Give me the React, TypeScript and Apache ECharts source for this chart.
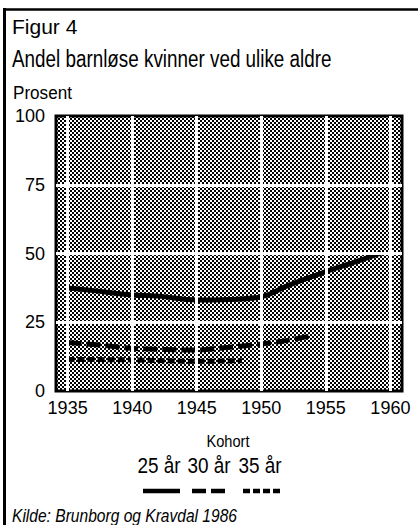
import { useEffect, useRef } from "react";
import * as echarts from "echarts";

const seriesNames = ["25 år", "30 år", "35 år"];
const years25 = [1935, 1937, 1940, 1942, 1945, 1947.5, 1950, 1952, 1955, 1957, 1959.3];
const values25 = [37.5, 36.5, 34.9, 34.5, 33.1, 33.3, 34.3, 38.2, 43.4, 46.5, 50.2];
const years30 = [1935, 1937.5, 1940, 1945, 1947.5, 1950, 1951.5, 1953.8];
const values30 = [17.6, 16.7, 15.5, 14.9, 15.9, 17.1, 18.0, 20.0];
const years35 = [1935, 1940, 1945, 1948.5];
const values35 = [11.5, 11.3, 10.8, 11.0];
const xTicks = [1935, 1940, 1945, 1950, 1955, 1960];
const yGridValues = [25, 50, 75];

const FONT = "'Liberation Sans', Arial, Helvetica, sans-serif";

function makePattern() {
  const c = document.createElement("canvas");
  c.width = 4;
  c.height = 4;
  const ctx = c.getContext("2d")!;
  ctx.fillStyle = "#fff";
  ctx.fillRect(0, 0, 4, 4);
  ctx.fillStyle = "#000";
  ctx.fillRect(0, 0, 2, 2);
  ctx.fillRect(2, 2, 2, 2);
  return c;
}

export default function App() {
  const ref = useRef<HTMLDivElement>(null);
  useEffect(() => {
    document.body.style.margin = "0";
    const chart = echarts.init(ref.current!, undefined, { renderer: "svg" });
    const pair = (xs: number[], ys: number[]) => xs.map((x, i) => [x, ys[i]]);
    const lineDashes: any[] = ["solid", [14, 5], [7, 3]];
    const legendCenters = [159, 209, 260];
    const legendLines = [
      [143, 180],
      [192, 226],
      [243, 282],
    ];
    const graphic: any[] = [
      { type: "line", shape: { x1: 4.5, y1: 8, x2: 4.5, y2: 525 }, style: { stroke: "#000", lineWidth: 3 } },
      { type: "line", shape: { x1: 3, y1: 9.5, x2: 418, y2: 9.5 }, style: { stroke: "#000", lineWidth: 2.5 } },
      { type: "text", x: 12, y: 26, style: { text: "Figur 4", font: `21px ${FONT}`, fill: "#000", verticalAlign: "middle" } },
      {
        type: "text",
        x: 12,
        y: 58.5,
        scaleX: 0.82,
        style: { text: "Andel barnløse kvinner ved ulike aldre", font: `23px ${FONT}`, fill: "#000", verticalAlign: "middle" },
      },
      {
        type: "text",
        x: 13,
        y: 92.5,
        scaleX: 0.9,
        style: { text: "Prosent", font: `19px ${FONT}`, fill: "#000", verticalAlign: "middle" },
      },
      {
        type: "text",
        x: 228,
        y: 441,
        scaleX: 0.86,
        style: { text: "Kohort", font: `17px ${FONT}`, fill: "#000", align: "center", verticalAlign: "middle" },
      },
      {
        type: "text",
        x: 12,
        y: 515,
        scaleX: 0.82,
        style: { text: "Kilde: Brunborg og Kravdal 1986", font: `italic 19px ${FONT}`, fill: "#000", verticalAlign: "middle" },
      },
    ];
    seriesNames.forEach((name, i) => {
      graphic.push({
        type: "text",
        x: legendCenters[i],
        y: 465,
        scaleX: 0.86,
        style: { text: name, font: `22px ${FONT}`, fill: "#000", align: "center", verticalAlign: "middle" },
      });
      graphic.push({
        type: "line",
        shape: { x1: legendLines[i][0], y1: 491, x2: legendLines[i][1], y2: 491 },
        style: { stroke: "#000", lineWidth: 4.5, lineDash: lineDashes[i] === "solid" ? null : lineDashes[i] },
      });
    });

    const mk = (name: string, data: number[][], dash: any, smooth: number) => ({
      name,
      type: "line",
      data,
      symbol: "none",
      showSymbol: false,
      smooth,
      z: 3,
      lineStyle: { color: "#000", width: 5, type: dash, cap: "butt" },
    });

    chart.setOption({
      animation: false,
      grid: {
        left: 56,
        right: 16,
        top: 116,
        bottom: 134,
        show: true,
        borderColor: "#000",
        borderWidth: 3,
        backgroundColor: { image: makePattern(), repeat: "repeat" },
      },
      xAxis: {
        type: "value",
        min: 1934.1,
        max: 1960.9,
        axisLine: { show: false },
        axisTick: { show: false },
        splitLine: { show: false },
        axisLabel: {
          customValues: xTicks,
          formatter: (v: number) => String(v),
          color: "#000",
          fontSize: 18,
          fontFamily: FONT,
          margin: 8,
        },
      },
      yAxis: {
        type: "value",
        min: 0,
        max: 100,
        interval: 25,
        axisLine: { show: false },
        axisTick: { show: false },
        splitLine: { show: false },
        axisLabel: { color: "#000", fontSize: 18, fontFamily: FONT, margin: 11 },
      },
      graphic,
      series: [
        {
          type: "line",
          data: [],
          silent: true,
          z: 1,
          markLine: {
            silent: true,
            symbol: "none",
            label: { show: false },
            lineStyle: { color: "#fff", width: 3, type: "solid" },
            data: [...xTicks.map((v) => ({ xAxis: v })), ...yGridValues.map((v) => ({ yAxis: v }))],
          },
        },
        mk(seriesNames[0], pair(years25, values25), "solid", 0.4),
        mk(seriesNames[1], pair(years30, values30), lineDashes[1], 0.3),
        mk(seriesNames[2], pair(years35, values35), lineDashes[2], 0.3),
      ],
    });
    return () => chart.dispose();
  }, []);
  return <div ref={ref} style={{ width: 418, height: 525 }} />;
}
